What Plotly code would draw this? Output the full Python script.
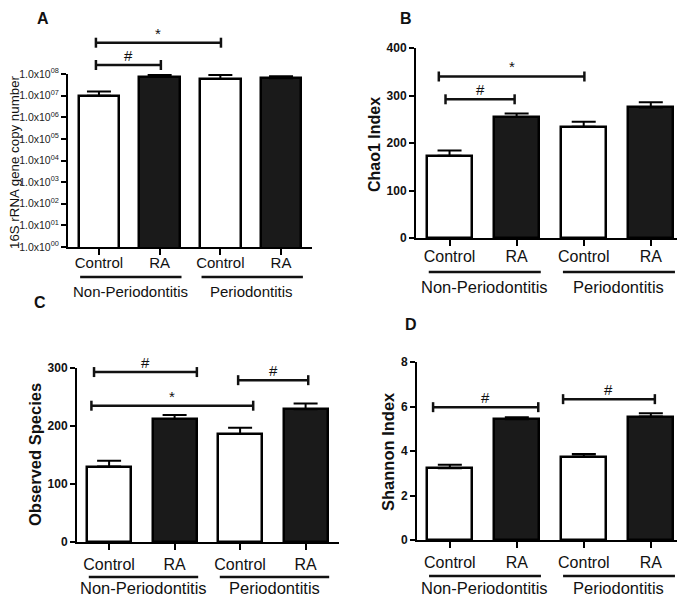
import numpy as np
import plotly.graph_objects as go

W, H = 685, 599
PAGE_PAD = 8  # the page body puts the figure 8 px in from the window corner

# --- data ---
categories = ['Control', 'RA', 'Control', 'RA']
groups = ['Non-Periodontitis', 'Periodontitis']
group_members = [[0, 1], [2, 3]]
bar_fill = ['white', '#1a1a1a', 'white', '#1a1a1a']

copies_mean = [1.0e7, 7.2e7, 5.9e7, 6.3e7]
copies_err = [0.55e7, 1.8e7, 3.1e7, 1.6e7]
chao1_mean = [173, 255, 234, 275]
chao1_err = [11, 7, 11, 11]
observed_mean = [130, 212, 186, 229]
observed_err = [10, 7, 11, 10]
shannon_mean = [3.23, 5.43, 3.75, 5.55]
shannon_err = [0.15, 0.09, 0.11, 0.15]

# significance brackets: (label, from, to, height)
sig_a = [('#', -0.05, 1.02, 2.6e8), ('*', -0.05, 2.01, 2.8e9)]
sig_b = [('#', -0.06, 0.97, 292), ('*', -0.16, 2.01, 340)]
sig_c = [('#', -0.23, 1.34, 293), ('#', 1.97, 3.04, 279), ('*', -0.27, 2.2, 235)]
sig_d = [('#', -0.25, 1.32, 5.97), ('#', 1.69, 3.06, 6.33)]

copies_ticks = [10 ** k for k in range(0, 9)]
copies_ticktext = ['1.0x10<sup>%02d</sup>' % k for k in range(0, 9)]

FONT = 'Liberation Sans'


# window pixel -> paper fraction
def px(x):
    return (x - PAGE_PAD) / W


def py(y):
    return 1 - (y - PAGE_PAD) / H


panels = [
    dict(tag='A', mean=copies_mean, err=copies_err, sig=sig_a, log=True, dtick=None,
         xd=(68, 312), yd=(74, 247), xr=(-0.51, 3.51), yr=(0, 8), standoff=-5,
         title='16S rRNA gene copy number', title_xy=(14, 162), title_size=13.3, title_bold=False,
         label_xy=(43, 18.5), cat_size=15, grp_size=15, line_off=30, grp_off=44),
    dict(tag='B', mean=chao1_mean, err=chao1_err, sig=sig_b, log=False, dtick=100,
         xd=(416, 683), yd=(48, 238), xr=(-0.5, 3.48), yr=(0, 400), standoff=-3,
         title='Chao1 Index', title_xy=(375, 145), title_size=16, title_bold=True,
         label_xy=(406, 18.5), cat_size=16, grp_size=16.5, line_off=34, grp_off=49),
    dict(tag='C', mean=observed_mean, err=observed_err, sig=sig_c, log=False, dtick=100,
         xd=(77, 339), yd=(368, 542), xr=(-0.49, 3.51), yr=(0, 300), standoff=1,
         title='Observed Species', title_xy=(35, 455), title_size=16.5, title_bold=True,
         label_xy=(40, 302), cat_size=16, grp_size=16.5, line_off=35, grp_off=46),
    dict(tag='D', mean=shannon_mean, err=shannon_err, sig=sig_d, log=False, dtick=2,
         xd=(417, 683), yd=(362, 540), xr=(-0.49, 3.48), yr=(0, 8), standoff=1,
         title='Shannon Index', title_xy=(388, 452), title_size=16.5, title_bold=True,
         label_xy=(411, 324), cat_size=16, grp_size=16.5, line_off=36, grp_off=48),
]

fig = go.Figure()
shapes = []
annotations = []

for i, p in enumerate(panels):
    n = '' if i == 0 else str(i + 1)
    xref, yref = 'x' + n, 'y' + n
    ph = p['yd'][1] - p['yd'][0]

    fig.add_trace(go.Bar(
        x=list(range(len(categories))), y=p['mean'], width=0.67,
        marker=dict(color=bar_fill, line=dict(color='black', width=2.5)),
        error_y=dict(type='data', symmetric=False, array=p['err'],
                     arrayminus=[0] * len(p['err']), color='black', thickness=2, width=12),
        xaxis=xref, yaxis=yref, showlegend=False, hoverinfo='skip'))

    xa = dict(domain=[px(p['xd'][0]), px(p['xd'][1])], range=list(p['xr']), anchor=yref,
              automargin=False,
              showgrid=False, zeroline=False, showline=True, linecolor='black', linewidth=2,
              ticks='outside', ticklen=6, tickwidth=2, tickcolor='black',
              tickvals=list(range(len(categories))), ticktext=categories,
              ticklabelstandoff=p['standoff'],
              tickfont=dict(family=FONT, size=p['cat_size'], color='#111'))
    ya = dict(domain=[py(p['yd'][1]), py(p['yd'][0])], anchor=xref, automargin=False,
              showgrid=False, zeroline=False, showline=True, linecolor='black', linewidth=2,
              ticks='outside', ticklen=5, tickwidth=2, tickcolor='black')
    if p['log']:
        ya.update(type='log', range=list(p['yr']), tickvals=copies_ticks, ticktext=copies_ticktext,
                  tickfont=dict(family=FONT, size=10.5, color='#222'))
    else:
        ya.update(range=list(p['yr']), dtick=p['dtick'],
                  tickfont=dict(family=FONT, size=12, color='#111', weight='bold'))
    fig.update_layout({'xaxis' + n: xa, 'yaxis' + n: ya})

    def to_dom(v, p=p):
        if p['log']:
            v = np.log10(v)
        return (v - p['yr'][0]) / (p['yr'][1] - p['yr'][0])

    # significance brackets
    cap = 5 / ph
    for lab, x0, x1, yv in p['sig']:
        d = to_dom(yv)
        shapes.append(dict(type='line', xref=xref, yref=yref + ' domain', x0=x0, x1=x1, y0=d, y1=d,
                           line=dict(color='#111', width=2.5)))
        for xe in (x0, x1):
            shapes.append(dict(type='line', xref=xref, yref=yref + ' domain', x0=xe, x1=xe,
                               y0=d - cap, y1=d + cap, line=dict(color='#111', width=2.5)))
        annotations.append(dict(text=lab, xref=xref, yref=yref + ' domain', x=(x0 + x1) / 2,
                                y=d - 1 / ph, xanchor='center', yanchor='bottom', showarrow=False,
                                font=dict(family=FONT, size=15, color='#111')))

    # group underlines and labels
    for g, members in zip(groups, group_members):
        yl = -p['line_off'] / ph
        shapes.append(dict(type='line', xref=xref, yref=yref + ' domain',
                           x0=members[0] - 0.31, x1=members[-1] + 0.36, y0=yl, y1=yl,
                           line=dict(color='#111', width=2.5)))
        annotations.append(dict(text=g, xref=xref, yref=yref + ' domain',
                                x=np.mean(members) + 0.02, y=-p['grp_off'] / ph,
                                showarrow=False, xanchor='center', yanchor='middle', borderpad=0,
                                font=dict(family=FONT, size=p['grp_size'], color='#111')))

    # axis title and panel letter
    t = '<b>%s</b>' % p['title'] if p['title_bold'] else p['title']
    annotations.append(dict(text=t, xref='paper', yref='paper', x=px(p['title_xy'][0]),
                            y=py(p['title_xy'][1]), textangle=-90, showarrow=False,
                            xanchor='center', yanchor='middle', borderpad=0,
                            font=dict(family=FONT, size=p['title_size'], color='#111')))
    annotations.append(dict(text='<b>%s</b>' % p['tag'], xref='paper', yref='paper',
                            x=px(p['label_xy'][0]), y=py(p['label_xy'][1]), showarrow=False,
                            xanchor='center', yanchor='middle', borderpad=0,
                            font=dict(family=FONT, size=16, color='#111')))

fig.update_layout(
    width=W, height=H, margin=dict(l=0, r=0, t=0, b=0, pad=0, autoexpand=False),
    paper_bgcolor='white', plot_bgcolor='white',
    bargap=0, shapes=shapes, annotations=annotations,
)

fig.write_html('out.html')
